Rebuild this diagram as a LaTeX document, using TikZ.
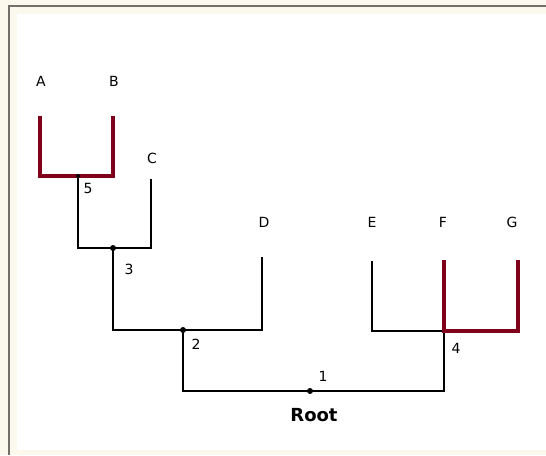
\documentclass[tikz,border=0pt]{standalone}
\usepackage{fontspec}
\setmainfont{DejaVu Sans}
\definecolor{cream}{RGB}{251,248,238}
\definecolor{framegray}{RGB}{112,112,104}
\definecolor{maroon}{RGB}{128,0,28}
\tikzset{
  branch/.style={draw=black,line width=1.15pt,line cap=rect},
  pickedbranch/.style={draw=maroon,line width=3.5pt,line cap=rect},
  leaflabel/.style={font=\fontsize{10.5}{12}\selectfont},
  rank/.style={font=\fontsize{10.5}{12}\selectfont,anchor=north west,inner sep=1pt},
  joint/.style={fill=black,circle,inner sep=0pt,minimum size=4.5pt}
}
\begin{document}
\begin{tikzpicture}[x=0.75pt,y=0.75pt,yscale=-1,xscale=1]
\useasboundingbox (0,0) rectangle (546,455);

%Shape: Background
\fill[cream] (0,0) rectangle (546,455);
\fill[white] (17,14) rectangle (546,450);
\draw[framegray,line width=1.6pt] (8.7,455) -- (8.7,5.6) -- (546,5.6);

% Leaf tops and inner joints
\coordinate (tA) at (40,118);
\coordinate (tB) at (113,118);
\coordinate (tC) at (151,180);
\coordinate (tD) at (262,258);
\coordinate (tE) at (372,262);
\coordinate (tF) at (444,262);
\coordinate (tG) at (518,262);
\coordinate (n5) at (78,176);
\coordinate (n3) at (113,248);
\coordinate (n2) at (183,330);
\coordinate (n1) at (310,391);
\coordinate (n4) at (444,331);

% Black branches
\draw[branch] (n5) -- (n5 |- n3) -- (tC |- n3) -- (tC);
\draw[branch] (n3) -- (n3 |- n2) -- (tD |- n2) -- (tD);
\draw[branch] (n2) -- (n2 |- n1) -- (n4 |- n1) -- (n4);
\draw[branch] (tE) -- (tE |- n4) -- (n4);

% Red branches
\draw[pickedbranch] (tA) -- (tA |- n5) -- (tB |- n5) -- (tB);
\draw[pickedbranch] (tF) -- (n4) -- (tG |- n4) -- (tG);

% Joints
\node[joint,minimum size=3pt] (d5) at (n5) {};
\node[joint] (d3) at (n3) {};
\node[joint] (d2) at (n2) {};
\node[joint] (d1) at (n1) {};

% Text Node
\node[leaflabel] (lA) at (41,81) {A};
\node[leaflabel] (lB) at (114,81) {B};
\node[leaflabel] (lC) at (152,158) {C};
\node[leaflabel] (lD) at (264,222) {D};
\node[leaflabel] (lE) at (372,222) {E};
\node[leaflabel] (lF) at (443,222) {F};
\node[leaflabel] (lG) at (512,222) {G};
\node[rank] (r5) at (82,182) {5};
\node[rank] (r3) at (123,262) {3};
\node[rank] (r2) at (190,337) {2};
\node[rank] (r4) at (450,342) {4};
\node[rank,anchor=south west] (r1) at (317,383) {1};
\node[font=\fontsize{13.5}{15}\selectfont\bfseries] (root) at (314,415) {Root};

\end{tikzpicture}
\end{document}
